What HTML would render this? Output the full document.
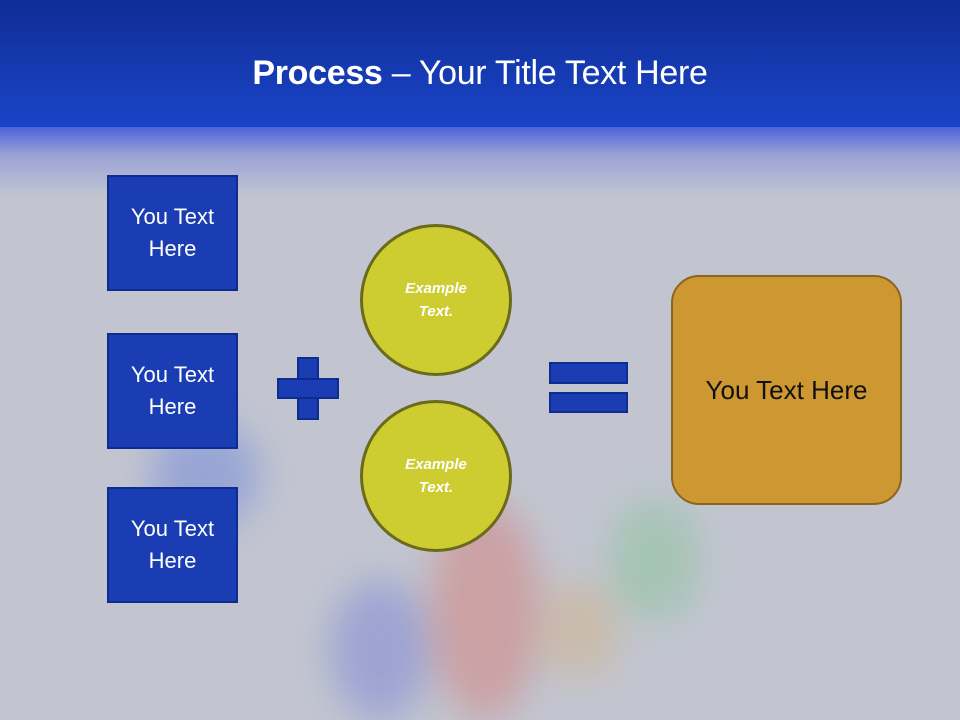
<!DOCTYPE html>
<html><head><meta charset="utf-8"><style>
body{margin:0;width:960px;height:720px;overflow:hidden;background:#c2c5d0;font-family:"Liberation Sans",sans-serif;position:relative}
.hdr{position:absolute;left:0;top:0;width:960px;height:127px;background:linear-gradient(#0f2d95,#1a44c8)}
.fade{position:absolute;left:0;top:127px;width:960px;height:70px;background:linear-gradient(#4d62d8,#9aa3d6 40%,#c2c5d0)}
.title{position:absolute;top:54px;width:960px;text-align:center;color:#fff;font-size:34px;letter-spacing:-0.3px}
.blob{position:absolute;border-radius:50%;filter:blur(18px)}
.box{position:absolute;left:107px;width:127px;height:112px;background:#1a3db4;border:2px solid #0e2b8f;color:#fff;font-size:22px;display:flex;align-items:center;justify-content:center;text-align:center;line-height:32px}
.circ{position:absolute;left:360px;width:146px;height:146px;border-radius:50%;background:#cdcd32;border:3px solid #6b6a1c;color:#fff;font-style:italic;font-weight:bold;font-size:15px;display:flex;align-items:center;justify-content:center;text-align:center;line-height:23px}
.b{position:absolute;background:#1a3db4;border:2px solid #0e2b8f;box-sizing:border-box}
</style></head><body>
<div class="blob" style="left:150px;top:420px;width:110px;height:110px;background:#3a5fe0;opacity:.3"></div>
<div class="blob" style="left:330px;top:580px;width:100px;height:140px;background:#4a5ad8;opacity:.3"></div>
<div class="blob" style="left:430px;top:500px;width:110px;height:220px;background:#e05040;opacity:.3"></div>
<div class="blob" style="left:540px;top:580px;width:80px;height:100px;background:#e0a040;opacity:.25"></div>
<div class="blob" style="left:610px;top:500px;width:90px;height:120px;background:#50c060;opacity:.25"></div>
<div class="hdr"></div><div class="fade"></div>
<div class="title"><b>Process</b> – Your Title Text Here</div>
<div class="box" style="top:175px">You Text<br>Here</div>
<div class="box" style="top:333px">You Text<br>Here</div>
<div class="box" style="top:487px">You Text<br>Here</div>
<div class="circ" style="top:224px">Example<br>Text.</div>
<div class="circ" style="top:400px">Example<br>Text.</div>
<div class="b" style="left:297px;top:357px;width:22px;height:63px"></div>
<div class="b" style="left:277px;top:378px;width:62px;height:21px"></div>
<div style="position:absolute;left:299px;top:380px;width:18px;height:17px;background:#1a3db4"></div>
<div class="b" style="left:549px;top:362px;width:79px;height:22px"></div>
<div class="b" style="left:549px;top:392px;width:79px;height:21px"></div>
<div style="position:absolute;left:671px;top:275px;width:227px;height:226px;border-radius:28px;background:#cd9832;border:2px solid #8a6520;display:flex;align-items:center;justify-content:center;font-size:26px;color:#111">You Text Here</div>
</body></html>
